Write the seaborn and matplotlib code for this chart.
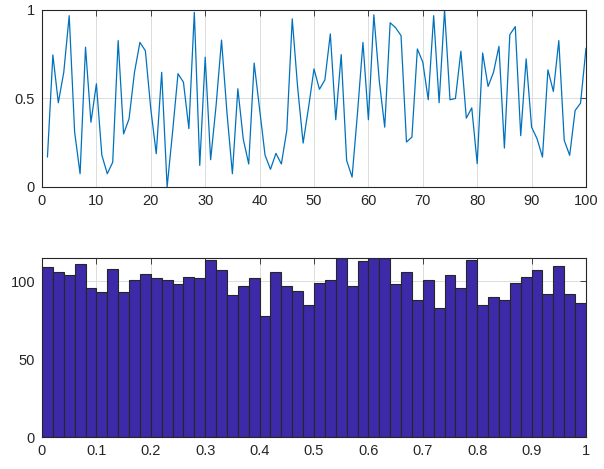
import numpy as np
import pandas as pd
import matplotlib
matplotlib.use("Agg")
import matplotlib.pyplot as plt
import seaborn as sns

# ---- data ----
line_x = list(range(1, 101))
line_y = [0.169, 0.746, 0.476, 0.648, 0.968, 0.31, 0.075, 0.79, 0.366, 0.583,
          0.18, 0.075, 0.14, 0.827, 0.30, 0.385, 0.648, 0.817, 0.77, 0.44,
          0.188, 0.648, 0.0, 0.31, 0.64, 0.592, 0.33, 0.987, 0.122, 0.733,
          0.154, 0.46, 0.83, 0.42, 0.075, 0.555, 0.27, 0.13, 0.70, 0.44,
          0.18, 0.10, 0.19, 0.13, 0.32, 0.95, 0.56, 0.248, 0.45, 0.667,
          0.552, 0.605, 0.865, 0.38, 0.748, 0.15, 0.056, 0.42, 0.817, 0.38,
          0.973, 0.60, 0.338, 0.928, 0.90, 0.855, 0.254, 0.282, 0.78, 0.705,
          0.493, 0.968, 0.476, 1.0, 0.493, 0.50, 0.767, 0.389, 0.447, 0.132,
          0.757, 0.568, 0.648, 0.795, 0.22, 0.861, 0.906, 0.29, 0.724, 0.338,
          0.273, 0.169, 0.662, 0.54, 0.827, 0.263, 0.179, 0.432, 0.474, 0.784]

hist_counts = [109, 106, 104, 111, 96, 93, 108, 93, 101, 105,
               102, 101, 98, 103, 102, 114, 107, 91, 97, 102,
               78, 106, 97, 94, 85, 99, 101, 115, 97, 113,
               115, 115, 98, 106, 88, 101, 83, 104, 96, 114,
               85, 90, 88, 99, 103, 107, 92, 110, 92, 86]
n_bins = 50
hist_range = (0.0, 1.0)

top_xticks = [0, 10, 20, 30, 40, 50, 60, 70, 80, 90, 100]
top_yticks = [0, 0.5, 1]
top_yticklabels = ["0", "0.5", "1"]
bot_xticks = [0, 0.1, 0.2, 0.3, 0.4, 0.5, 0.6, 0.7, 0.8, 0.9, 1]
bot_xticklabels = ["0", "0.1", "0.2", "0.3", "0.4", "0.5", "0.6", "0.7", "0.8", "0.9", "1"]
bot_yticks = [0, 50, 100]

# ---- style ----
sns.set_style("white")
plt.rcParams['font.family'] = ['Liberation Sans', 'DejaVu Sans']

fig = plt.figure(figsize=(6.04, 4.69), dpi=100)
ax1 = fig.add_axes([42/604, (469-187)/469, 544/604, 177/469])
ax2 = fig.add_axes([42/604, (469-437)/469, 544/604, 179/469])

df_line = pd.DataFrame({"x": line_x, "y": line_y})
sns.lineplot(data=df_line, x="x", y="y", ax=ax1, color="#0072BD", linewidth=0.9)

bin_w = (hist_range[1] - hist_range[0]) / n_bins
centers = [hist_range[0] + bin_w * (k + 0.5) for k in range(n_bins)]
df_hist = pd.DataFrame({"c": centers, "w": hist_counts})
sns.histplot(data=df_hist, x="c", weights="w", bins=n_bins, binrange=hist_range,
             ax=ax2, color="#3D2AA8", alpha=1.0, edgecolor="#262626", linewidth=0.8)

for ax in (ax1, ax2):
    ax.set_xlabel("")
    ax.set_ylabel("")
    ax.grid(True, color="#DCDCDC", linewidth=0.7)
    ax.set_axisbelow(True)
    for s in ax.spines.values():
        s.set_color("#262626")
        s.set_linewidth(0.8)
    ax.tick_params(direction="in", length=4, width=0.6, colors="#262626",
                   labelsize=10.5, top=True, right=True, labelcolor="#262626",
                   pad=5)

ax1.set_xlim(0, 100)
ax1.set_ylim(0, 1)
ax1.set_xticks(top_xticks)
ax1.set_yticks(top_yticks)
ax1.set_yticklabels(top_yticklabels)

ax2.set_xlim(0, 1)
ax2.set_ylim(0, 115)
ax2.set_xticks(bot_xticks)
ax2.set_xticklabels(bot_xticklabels)
ax2.set_yticks(bot_yticks)

fig.savefig("out.png", dpi=100)
